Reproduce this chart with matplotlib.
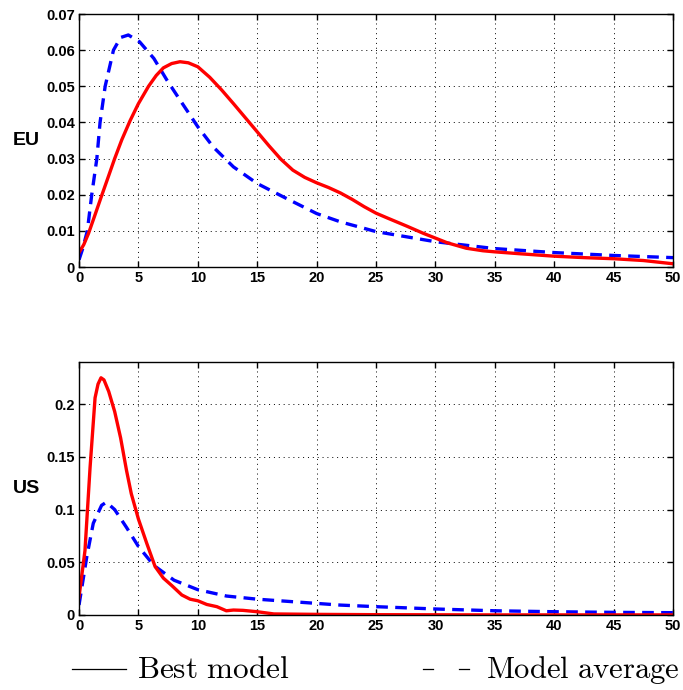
import matplotlib

matplotlib.use("Agg")

import matplotlib.pyplot as plt
from matplotlib.lines import Line2D

# EU panel
eu_best_x = [0, 0.4, 0.8, 1.3, 1.9, 2.5, 3.0, 3.6, 4.3, 5.0, 5.85, 6.5, 7.1, 7.8,
             8.5, 9.2, 10, 11, 12, 13, 14, 15, 16, 17, 18, 19, 20, 21, 22, 23, 24,
             25, 26, 27.6, 29, 30, 31, 32.6, 34, 35, 37, 40, 42.5, 45, 47.5, 50]
eu_best_y = [0.004, 0.0062, 0.0093, 0.0140, 0.0197, 0.0253, 0.0300, 0.0352, 0.0405,
             0.0452, 0.0500, 0.0530, 0.0551, 0.0563, 0.0568, 0.0565, 0.0554, 0.0525,
             0.0490, 0.0452, 0.0413, 0.0374, 0.0335, 0.0298, 0.0268, 0.0248, 0.0233,
             0.0220, 0.0205, 0.0187, 0.0167, 0.0149, 0.0135, 0.0113, 0.0093, 0.0080,
             0.0067, 0.0052, 0.0045, 0.0042, 0.0037, 0.0030, 0.0026, 0.0023, 0.0018,
             0.0009]

eu_avg_x = [0, 0.3, 0.7, 1.07, 1.5, 1.77, 2.2, 2.9, 3.5, 4.15, 5.1, 6.3, 7.4, 8.5,
            10, 11.3, 13, 15, 17.2, 20, 22, 25, 30, 35, 40, 45, 50]
eu_avg_y = [0.002, 0.005, 0.010, 0.020, 0.030, 0.040, 0.050, 0.060, 0.0635, 0.0642,
            0.0623, 0.0577, 0.0517, 0.0462, 0.0388, 0.0332, 0.0277, 0.0231, 0.0194,
            0.0148, 0.0125, 0.0098, 0.0070, 0.0051, 0.0040, 0.0032, 0.0026]

# US panel
us_best_x = [0, 0.5, 0.93, 1.35, 1.6, 1.85, 2.1, 2.5, 3.0, 3.5, 4.0, 4.4, 5.0, 5.7,
             6.4, 7.1, 7.8, 8.65, 9.35, 10, 10.75, 11.6, 12.4, 13, 13.8, 15, 16.4,
             20, 25, 30, 35, 40, 45, 50]
us_best_y = [0.017, 0.061, 0.140, 0.206, 0.219, 0.225, 0.223, 0.212, 0.193, 0.168,
             0.137, 0.115, 0.091, 0.068, 0.046, 0.035, 0.028, 0.019, 0.015, 0.0135,
             0.010, 0.0079, 0.004, 0.0047, 0.0044, 0.0031, 0.001, 0.0006, 0.0003,
             0.0002, 0.0001, 0.0001, 0.0001, 0.0001]

us_avg_x = [0, 0.65, 1.2, 1.9, 2.3, 3.0, 4.0, 5.0, 6.3, 8, 10, 12.4, 15, 20, 22, 25,
            30, 35, 40, 45, 50]
us_avg_y = [0.0095, 0.055, 0.087, 0.104, 0.107, 0.100, 0.083, 0.065, 0.047, 0.033,
            0.024, 0.018, 0.015, 0.011, 0.0094, 0.0079, 0.0057, 0.0040, 0.0031,
            0.0025, 0.0022]

x_ticks = list(range(0, 51, 5))
eu_ticks = [0, 0.01, 0.02, 0.03, 0.04, 0.05, 0.06, 0.07]
eu_tick_labels = ["0", "0.01", "0.02", "0.03", "0.04", "0.05", "0.06", "0.07"]
us_ticks = [0, 0.05, 0.1, 0.15, 0.2]
us_tick_labels = ["0", "0.05", "0.1", "0.15", "0.2"]

tick_font = {"family": ["Liberation Sans Narrow", "Liberation Sans", "DejaVu Sans"],
             "weight": "bold", "size": 10.5}

plt.rcParams["mathtext.fontset"] = "cm"

fig = plt.figure(figsize=(6.83, 6.90), dpi=100)
ax_eu = fig.add_axes([0.1157, 0.613, 0.8697, 0.3667])
ax_us = fig.add_axes([0.1157, 0.1087, 0.8697, 0.3667])

panels = [
    (ax_eu, "EU", eu_best_x, eu_best_y, eu_avg_x, eu_avg_y, eu_ticks, eu_tick_labels, 0.07),
    (ax_us, "US", us_best_x, us_best_y, us_avg_x, us_avg_y, us_ticks, us_tick_labels, 0.24),
]

for ax, name, bx, by, ax_x, ax_y, yt, ytl, ymax in panels:
    ax.plot(ax_x, ax_y, color="#0000ff", linewidth=2.4, dashes=(3.5, 2.2))
    ax.plot(bx, by, color="#ff0000", linewidth=2.4)
    ax.set_xlim(0, 50)
    ax.set_ylim(0, ymax)
    ax.set_xticks(x_ticks)
    ax.set_xticklabels([str(t) for t in x_ticks], fontdict=tick_font)
    ax.set_yticks(yt)
    ax.set_yticklabels(ytl, fontdict=tick_font)
    ax.tick_params(direction="in", length=4, width=1, top=True, right=True, pad=3)
    ax.grid(True, color="black", linestyle=(0, (1, 4)), linewidth=0.7)
    for sp in ax.spines.values():
        sp.set_linewidth(1.0)
    ax.set_ylabel(name, rotation=0, fontsize=14, fontweight="bold",
                  family=["Liberation Sans", "DejaVu Sans"], labelpad=14, va="center")

# legend drawn as text under the lower panel
line_y = 1 - 669 / 690
text_y = 1 - 678 / 690
fig.add_artist(Line2D([0.1054, 0.1845], [line_y, line_y],
                      color="black", linewidth=0.9, transform=fig.transFigure))
fig.text(0.2006, text_y, r"$\mathrm{Best\ model}$", fontsize=22.5, va="baseline", ha="left")
fig.add_artist(Line2D([0.6193, 0.6340], [line_y, line_y],
                      color="black", linewidth=0.9, transform=fig.transFigure))
fig.add_artist(Line2D([0.6720, 0.6867], [line_y, line_y],
                      color="black", linewidth=0.9, transform=fig.transFigure))
fig.text(0.7115, text_y, r"$\mathrm{Model\ average}$", fontsize=22, va="baseline", ha="left")

fig.savefig("out.png", dpi=100)
plt.close(fig)
